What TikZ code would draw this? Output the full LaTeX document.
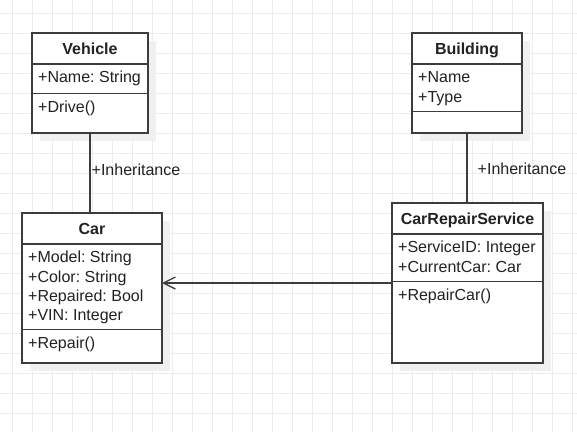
\documentclass[tikz,border=0pt]{standalone}
\usepackage{fontspec}
\setmainfont{Liberation Sans}
\usetikzlibrary{positioning,arrows.meta,shadows}
\definecolor{gridgray}{RGB}{236,236,236}
\definecolor{shadowgray}{RGB}{240,240,240}
\definecolor{linegray}{RGB}{60,60,60}
\definecolor{textgray}{RGB}{34,34,34}
\newcommand{\umlsize}{\fontsize{16}{19.2}\selectfont}
\frenchspacing

\tikzset{
  classpart/.style={draw=linegray, line width=1.3pt, fill=white, minimum width=#1,
    inner sep=0pt, outer sep=0pt,
    drop shadow={shadow xshift=8pt, shadow yshift=-8pt, fill=shadowgray, opacity=1}},
  classhead/.style={classpart=#1, font=\umlsize\bfseries, text=textgray,
    minimum height=31pt, text height=11.5pt, text depth=0.5pt},
  members/.style={label={[anchor=north west, align=left, inner sep=0pt,
    xshift=6pt, yshift=-5.3pt, font=\umlsize, text=textgray]north west:{\strut #1}}},
  edgelabel/.style={font=\umlsize, text=textgray, inner sep=0pt, anchor=base west},
  link/.style={draw=linegray, line width=1.3pt},
  gridline/.style={draw=gridgray, line width=1pt},
}

\begin{document}
\begin{tikzpicture}[x=1pt, y=-1pt]
    \useasboundingbox[fill=white] (0,0) rectangle (577,432);
    % Background grid, 20px pitch
    \foreach \gx in {0,...,28}
      \draw[gridline] ({12.7+20*\gx},0) -- ({12.7+20*\gx},432);
    \foreach \gy in {0,...,20}
      \draw[gridline] (0,{13.3+20*\gy}) -- (577,{13.3+20*\gy});

    % Vehicle
    \node[classhead=116pt, anchor=north west] (vehH) at (32,33) {Vehicle};
    \node[classpart=116pt, minimum height=29.3pt, below=0pt of vehH,
      members={+Name: String}] (vehA) {};
    \node[classpart=116pt, minimum height=39.7pt, below=0pt of vehA,
      members={+Drive()}] (vehO) {};

    % Building
    \node[classhead=110pt, anchor=north west] (bldH) at (412,33) {Building};
    \node[classpart=110pt, minimum height=47.7pt, below=0pt of bldH,
      members={+Name\\+Type}] (bldA) {};
    \node[classpart=110pt, minimum height=21.3pt, below=0pt of bldA] (bldO) {};

    % Car
    \node[classhead=140pt, anchor=north west] (carH) at (22,213) {Car};
    \node[classpart=140pt, minimum height=85.3pt, below=0pt of carH,
      members={+Model: String\\+Color: String\\+Repaired: Bool\\+VIN: Integer}] (carA) {};
    \node[classpart=140pt, minimum height=33.7pt, below=0pt of carA,
      members={+Repair()}] (carO) {};

    % CarRepairService
    \node[classhead=151pt, anchor=north west] (crsH) at (392,203) {CarRepairService};
    \node[classpart=151pt, minimum height=47.7pt, below=0pt of crsH,
      members={+ServiceID: Integer\\+CurrentCar: Car}] (crsA) {};
    \node[classpart=151pt, minimum height=81.3pt, below=0pt of crsA,
      members={+RepairCar()}] (crsO) {};

    % Connectors
    \draw[link] (vehO.south) -- (vehO.south |- carH.north);
    \draw[link] (bldO.south) -- (bldO.south |- crsH.north);
    \coordinate (assocStart) at ([yshift=-1.3pt]crsO.north west);
    \draw[link, -{Straight Barb[length=12pt, width=12pt]}]
      (assocStart) -- (assocStart -| carA.east);

    \node[edgelabel] (inhVeh) at (91.5,175.5) {+Inheritance};
    \node[edgelabel] (inhBld) at (477.5,174.3) {+Inheritance};
  \end{tikzpicture}
\end{document}
